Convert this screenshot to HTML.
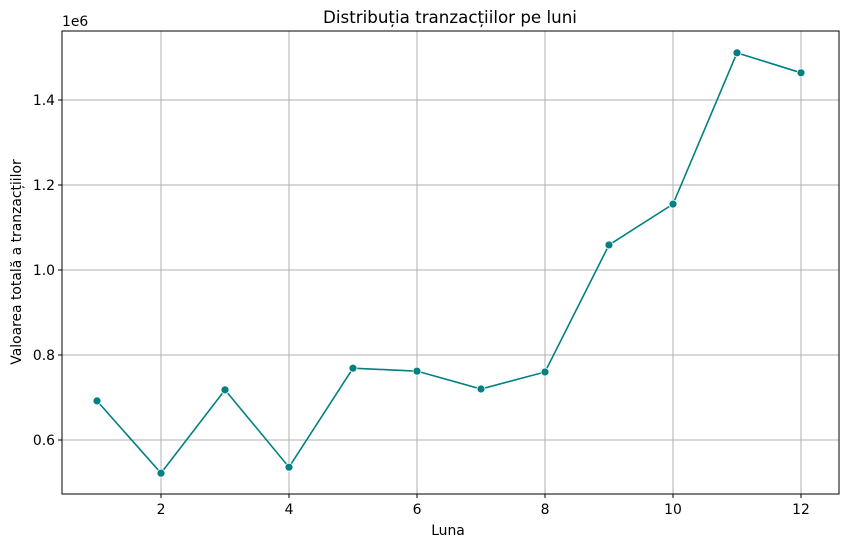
<!DOCTYPE html>
<html><head><meta charset="utf-8"><style>
body{margin:0;background:#fff;}
svg{display:block;font-family:"DejaVu Sans","Liberation Sans",sans-serif;}
</style></head><body>
<svg id="chart" width="846" height="547">
<text x="450" y="23" text-anchor="middle" font-size="16.7">Distribuția tranzacțiilor pe luni</text>
<g id="grid"></g>
<g id="axes"></g>
<g id="series"></g>
<rect x="62" y="31" width="777" height="463" fill="none" stroke="#000" stroke-width="1"/>
<text x="448" y="535" text-anchor="middle" font-size="13.9">Luna</text>
<text transform="translate(21,262) rotate(-90)" text-anchor="middle" font-size="13.9">Valoarea totală a tranzacțiilor</text>
<text x="62" y="26" font-size="13.9">1e6</text>
</svg>
<script>
const months=[1,2,3,4,5,6,7,8,9,10,11,12];
const values=[692000,522000,718000,536000,769000,762000,720000,760000,1059000,1155000,1511000,1464000];
const xTicks=[2,4,6,8,10,12];
const yTicks=[0.6,0.8,1.0,1.2,1.4];
const yTickLabels=["0.6","0.8","1.0","1.2","1.4"];
const NS="http://www.w3.org/2000/svg";
function xs(v){return 97+(v-1)*64;}
function ys(v){return 440-(v/1e6-0.6)*425;}
function mk(t,a,p){const e=document.createElementNS(NS,t);for(const k in a)e.setAttribute(k,a[k]);p.appendChild(e);return e;}
const grid=document.getElementById('grid'),axes=document.getElementById('axes'),ser=document.getElementById('series');
xTicks.forEach(t=>{const x=xs(t);
 const g=mk('line',{x1:x,x2:x,y1:31,y2:494,stroke:'#b0b0b0','stroke-width':1},grid);
 
 
 mk('line',{x1:x,x2:x,y1:494,y2:498,stroke:'#000'},axes);
 const l=mk('text',{x:x,y:514,'text-anchor':'middle','font-size':13.9},axes);l.textContent=t;
 
 
});
yTicks.forEach((t,i)=>{const y=ys(t*1e6);
 const g=mk('line',{x1:62,x2:839,y1:y,y2:y,stroke:'#b0b0b0','stroke-width':1},grid);
 
 
 mk('line',{x1:58,x2:62,y1:y,y2:y,stroke:'#000'},axes);
 const l=mk('text',{x:55,y:y+5,'text-anchor':'end','font-size':13.9},axes);l.textContent=yTickLabels[i];
 
 
});
const pts=months.map((m,i)=>xs(m)+','+ys(values[i])).join(' ');
const pl=mk('polyline',{points:pts,fill:'none',stroke:'#008080','stroke-width':1.6},ser);


months.forEach((m,i)=>{
 const c=mk('circle',{cx:xs(m),cy:ys(values[i]),r:4,fill:'#008080',stroke:'#fff','stroke-width':0.8},ser);
 
 
});
</script>
</body></html>
